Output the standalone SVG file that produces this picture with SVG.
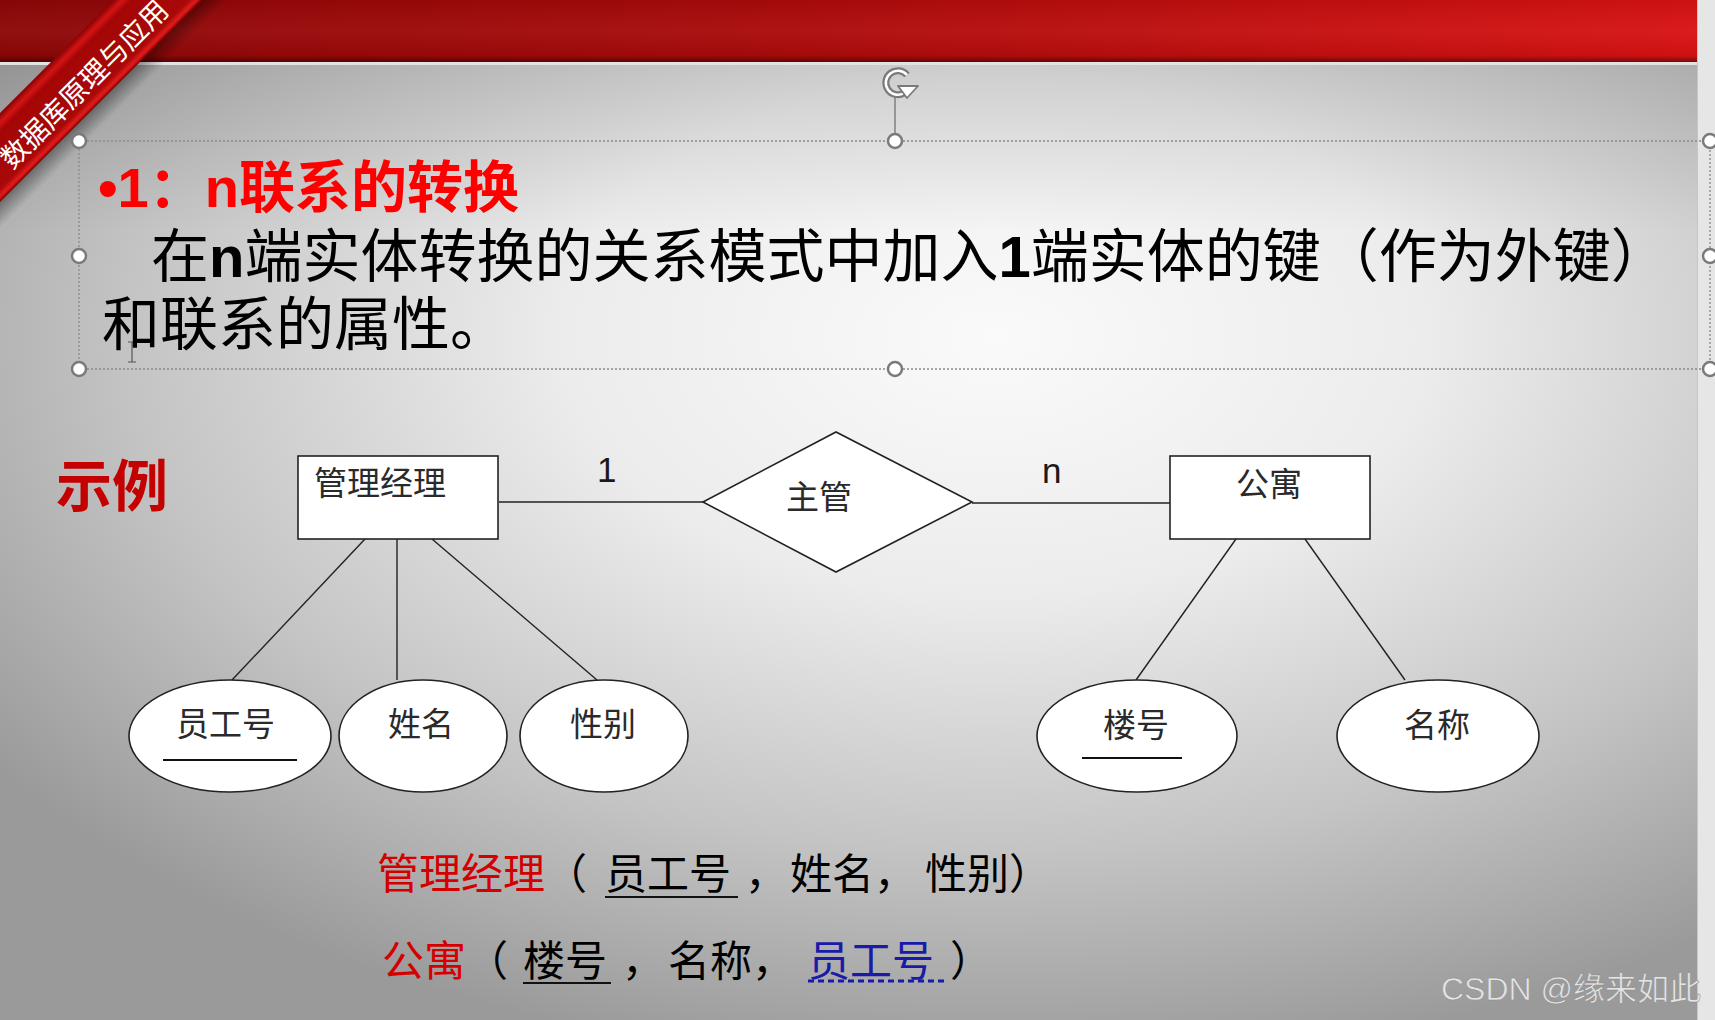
<svg xmlns="http://www.w3.org/2000/svg" width="1715" height="1020" viewBox="0 0 1715 1020">
<defs>
  <radialGradient id="bg" cx="0.58" cy="0.33" r="0.72">
    <stop offset="0" stop-color="#fafafa"/>
    <stop offset="0.35" stop-color="#ececec"/>
    <stop offset="0.7" stop-color="#c4c4c4"/>
    <stop offset="1" stop-color="#9a9a9a"/>
  </radialGradient>
  <linearGradient id="topShade" x1="0" y1="0" x2="0" y2="1">
    <stop offset="0" stop-color="#000" stop-opacity="0.13"/>
    <stop offset="1" stop-color="#000" stop-opacity="0"/>
  </linearGradient>
  <linearGradient id="header" x1="0" y1="0" x2="1" y2="0">
    <stop offset="0" stop-color="#8c0606"/>
    <stop offset="0.45" stop-color="#aa0a0a"/>
    <stop offset="1" stop-color="#d81212"/>
  </linearGradient>
  <linearGradient id="headerV" x1="0" y1="0" x2="0" y2="1">
    <stop offset="0" stop-color="#000" stop-opacity="0.05"/>
    <stop offset="0.5" stop-color="#fff" stop-opacity="0.04"/>
    <stop offset="0.9" stop-color="#000" stop-opacity="0.05"/>
    <stop offset="1" stop-color="#000" stop-opacity="0.45"/>
  </linearGradient>
  <linearGradient id="ribShadow" gradientUnits="userSpaceOnUse" x1="100" y1="100" x2="114" y2="114">
    <stop offset="0" stop-color="#000" stop-opacity="0.4"/>
    <stop offset="1" stop-color="#000" stop-opacity="0"/>
  </linearGradient>
  <linearGradient id="ribbon" gradientUnits="userSpaceOnUse" x1="57" y1="57" x2="101" y2="101">
    <stop offset="0" stop-color="#8e0404"/>
    <stop offset="0.1" stop-color="#d41414"/>
    <stop offset="0.2" stop-color="#a40606"/>
    <stop offset="0.85" stop-color="#a80808"/>
    <stop offset="0.94" stop-color="#e41c1c"/>
    <stop offset="1" stop-color="#7a0000"/>
  </linearGradient>
  <style>
    .cjk { font-family: "Noto Sans CJK SC", "Noto Sans CJK TC", sans-serif; }
    .lat { font-family: "Liberation Sans", "Noto Sans CJK SC", sans-serif; }
    .body { font-size: 58px; fill: #000; }
    .lbl { font-family: "Noto Sans CJK SC", sans-serif; font-size: 33px; fill: #2a2a2a; }
    .card { font-family: "Liberation Sans", sans-serif; font-size: 35px; fill: #1a1a1a; }
    .shape { fill: #fff; stroke: #222; stroke-width: 1.6; }
    .conn { stroke: #222; stroke-width: 1.4; fill: none; }
    .rel { font-family: "Noto Sans CJK SC", sans-serif; font-size: 42px; fill: #000; }
    .red { fill: #d40000; }
    .blue { fill: #1a1aa8; }
    .handle { fill: #fff; stroke: #7a7a7a; stroke-width: 2.5; }
    .ul { stroke: #111; stroke-width: 2; }
  </style>
</defs>

<!-- background -->
<rect x="0" y="0" width="1715" height="1020" fill="url(#bg)"/>
<rect x="0" y="62" width="1697" height="170" fill="url(#topShade)"/>
<rect x="1697" y="0" width="18" height="1020" fill="#e6e6e6"/>
<line x1="1697.5" y1="0" x2="1697.5" y2="1020" stroke="#c6c6c6" stroke-width="1"/>

<!-- header bar -->
<rect x="0" y="0" width="1697" height="62" fill="url(#header)"/>
<rect x="0" y="0" width="1697" height="62" fill="url(#headerV)"/>
<rect x="0" y="62" width="1697" height="3" fill="#e2e2e2"/>

<!-- corner ribbon -->
<g id="ribbon-banner">
  <polygon points="0,200 200,0 230,0 0,230" fill="url(#ribShadow)"/>
  <polygon points="0,113 113,0 202,0 0,202" fill="url(#ribbon)"/>
  <text class="cjk" x="0" y="10" font-size="28" fill="#fff" text-anchor="middle" transform="translate(84,84) rotate(-45)">数据库原理与应用</text>
</g>

<!-- selection frame of the text box -->
<g id="selection">
  <rect x="79" y="141" width="1631" height="228" fill="none" stroke="#8a8a8a" stroke-width="1.3" stroke-dasharray="2 2"/>
  <line x1="895" y1="97" x2="895" y2="134" stroke="#6a6a6a" stroke-width="1.2"/>
  <path d="M907,75 A12,12 0 1 0 904,93" fill="none" stroke="#7a7a7a" stroke-width="7"/>
  <path d="M907,75 A12,12 0 1 0 904,93" fill="none" stroke="#fff" stroke-width="2.5"/>
  <polygon points="898,86 918,86 907,98" fill="#fff" stroke="#7a7a7a" stroke-width="1.8" stroke-linejoin="round"/>
  <circle class="handle" cx="79" cy="141" r="7"/>
  <circle class="handle" cx="895" cy="141" r="7"/>
  <circle class="handle" cx="1710" cy="141" r="7"/>
  <circle class="handle" cx="79" cy="256" r="7"/>
  <circle class="handle" cx="1710" cy="256" r="7"/>
  <circle class="handle" cx="79" cy="369" r="7"/>
  <circle class="handle" cx="895" cy="369" r="7"/>
  <circle class="handle" cx="1710" cy="369" r="7"/>
  <path d="M128,342 h8 M132,342 v20 M128,362 h8" stroke="#555" stroke-width="1.2" fill="none"/>
</g>

<!-- heading and description -->
<g id="heading">
  <text class="cjk" x="98" y="207" font-size="56" font-weight="bold" fill="#ff0000"><tspan class="lat">•1</tspan>：<tspan class="lat">n</tspan>联系的转换</text>
  <text class="cjk body" x="151" y="277">在<tspan class="lat" font-weight="bold">n</tspan>端实体转换的关系模式中加入<tspan class="lat" font-weight="bold">1</tspan>端实体的键（作为外键）</text>
  <text class="cjk body" x="102" y="345">和联系的属性。</text>
  <text class="cjk" x="56" y="506" font-size="56" font-weight="bold" fill="#c40000">示例</text>
</g>

<!-- connectors -->
<g id="connectors">
  <line class="conn" x1="499" y1="502" x2="703" y2="502"/>
  <line class="conn" x1="972" y1="503" x2="1170" y2="503"/>
  <line class="conn" x1="365" y1="539" x2="232" y2="680"/>
  <line class="conn" x1="397" y1="539" x2="397" y2="680"/>
  <line class="conn" x1="432" y1="539" x2="597" y2="680"/>
  <line class="conn" x1="1236" y1="539" x2="1136" y2="680"/>
  <line class="conn" x1="1305" y1="539" x2="1405" y2="680"/>
  <text class="card" x="597" y="482">1</text>
  <text class="card" x="1042" y="483">n</text>
</g>

<!-- entities -->
<g id="entity-manager">
  <rect class="shape" x="298" y="456" width="200" height="83"/>
  <text class="lbl" x="314" y="495">管理经理</text>
</g>
<g id="relationship-manage">
  <polygon class="shape" points="703,502 836,432 972,502 836,572"/>
  <text class="lbl" x="786" y="509">主管</text>
</g>
<g id="entity-apartment">
  <rect class="shape" x="1170" y="456" width="200" height="83"/>
  <text class="lbl" x="1236" y="496">公寓</text>
</g>

<!-- attributes -->
<g id="attr-empid">
  <ellipse class="shape" cx="230" cy="736" rx="101" ry="56"/>
  <text class="lbl" x="176" y="736">员工号</text>
  <line class="ul" x1="163" y1="760" x2="297" y2="760"/>
</g>
<g id="attr-name">
  <ellipse class="shape" cx="423" cy="736" rx="84" ry="56"/>
  <text class="lbl" x="388" y="736">姓名</text>
</g>
<g id="attr-gender">
  <ellipse class="shape" cx="604" cy="736" rx="84" ry="56"/>
  <text class="lbl" x="570" y="736">性别</text>
</g>
<g id="attr-building">
  <ellipse class="shape" cx="1137" cy="736" rx="100" ry="56"/>
  <text class="lbl" x="1103" y="737">楼号</text>
  <line class="ul" x1="1082" y1="758" x2="1182" y2="758"/>
</g>
<g id="attr-aptname">
  <ellipse class="shape" cx="1438" cy="736" rx="101" ry="56"/>
  <text class="lbl" x="1404" y="737">名称</text>
</g>

<!-- relation schemas -->
<g id="schema-manager">
  <text class="rel" x="377" y="889"><tspan class="red">管理经理</tspan>（</text>
  <text class="rel" x="605" y="889">员工号</text>
  <line class="ul" x1="605" y1="897" x2="738" y2="897"/>
  <text class="rel" x="745" y="889">，</text>
  <text class="rel" x="790" y="889">姓名，</text>
  <text class="rel" x="925" y="889">性别）</text>
</g>
<g id="schema-apartment">
  <text class="rel" x="382" y="976"><tspan class="red">公寓</tspan>（</text>
  <text class="rel" x="523" y="976">楼号</text>
  <line class="ul" x1="523" y1="983" x2="611" y2="983"/>
  <text class="rel" x="622" y="976">，</text>
  <text class="rel" x="668" y="976">名称，</text>
  <text class="rel blue" x="808" y="976">员工号</text>
  <line x1="808" y1="981" x2="948" y2="981" stroke="#1a1aa8" stroke-width="3" stroke-dasharray="6 4"/>
  <text class="rel" x="950" y="976">）</text>
</g>

<!-- watermark -->
<text class="lat" x="1441" y="1000" font-size="32" fill="#e4e4e4" stroke="#8a8a8a" stroke-width="0.5">CSDN @<tspan class="cjk">缘来如此</tspan></text>
</svg>
